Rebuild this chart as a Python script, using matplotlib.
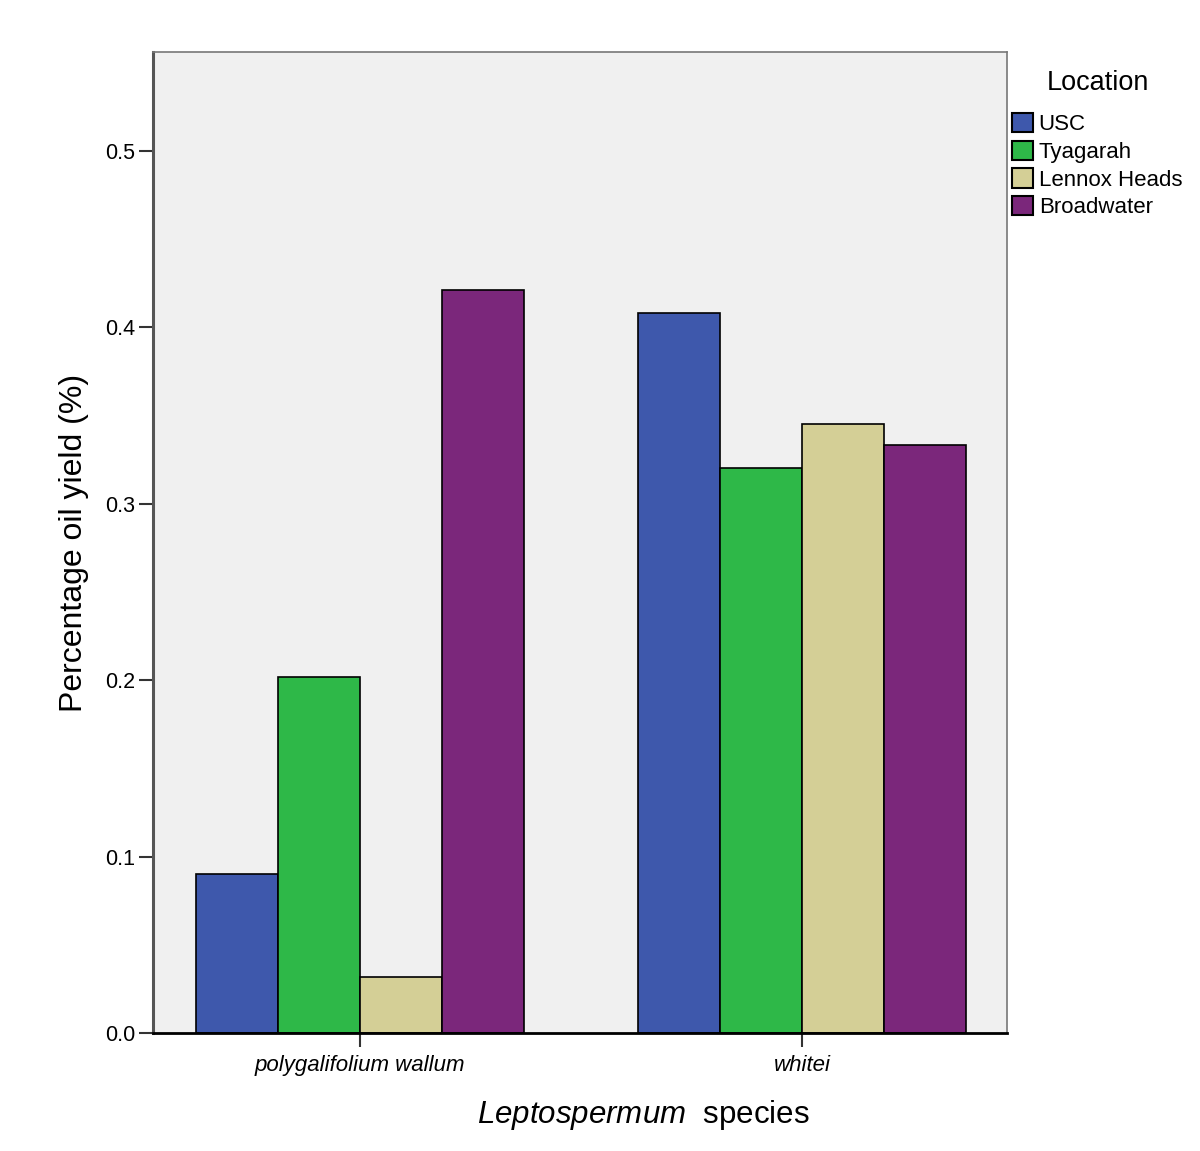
import numpy as np
import matplotlib.pyplot as plt

plt.rcParams['font.family'] = ['Liberation Sans', 'DejaVu Sans']
plt.rcParams['mathtext.fontset'] = 'custom'
plt.rcParams['mathtext.rm'] = 'Liberation Sans'
plt.rcParams['mathtext.it'] = 'Liberation Sans:italic'

species = ['polygalifolium wallum', 'whitei']
locations = ['USC', 'Tyagarah', 'Lennox Heads', 'Broadwater']
colors = ['#3E58AC', '#2EB848', '#D4CF96', '#7B277B']

usc = [0.090, 0.408]
tyagarah = [0.202, 0.320]
lennox = [0.032, 0.345]
broadwater = [0.421, 0.333]
yields = [usc, tyagarah, lennox, broadwater]

fig = plt.figure(figsize=(12, 11.51), dpi=100)
ax = fig.add_axes([0.1275, 0.1025, 0.7117, 0.8523])
ax.set_facecolor('#F0F0F0')

x = np.arange(len(species))
width = 0.1855
for i, (loc, vals) in enumerate(zip(locations, yields)):
    offset = (i - 1.5) * width
    ax.bar(x + offset, vals, width, color=colors[i], edgecolor='black',
           linewidth=1.2, label=loc, zorder=2)

ax.set_xlim(-0.468, 1.464)
ax.set_ylim(0, 0.556)
ax.set_yticks([0.0, 0.1, 0.2, 0.3, 0.4, 0.5])
ax.set_yticklabels(['0.0', '0.1', '0.2', '0.3', '0.4', '0.5'], fontsize=15.5)
ax.set_xticks(x)
ax.set_xticklabels(species, fontsize=16, style='italic')
ax.tick_params(axis='both', direction='out', length=10, width=1.5, color='#333333')
ax.tick_params(axis='x', pad=6)
ax.tick_params(axis='y', pad=3)

for side in ['top', 'right']:
    ax.spines[side].set_color('#777777')
    ax.spines[side].set_linewidth(1.2)
ax.spines['left'].set_color('#555555')
ax.spines['left'].set_linewidth(2.2)
ax.spines['bottom'].set_color('black')
ax.spines['bottom'].set_linewidth(2)

ax.set_ylabel('Percentage oil yield (%)', fontsize=23)
ax.yaxis.set_label_coords(-0.075, 0.5)
ax.set_xlabel(r'$\mathit{Leptospermum}$  species', fontsize=22.5)
ax.xaxis.set_label_coords(0.574, -0.066)

ax.text(1.1066, 0.968, 'Location', transform=ax.transAxes, fontsize=19.5,
        ha='center', va='center')
leg = ax.legend(loc='upper left', bbox_to_anchor=(1.0059, 0.938), frameon=False,
                fontsize=16, handlelength=0.95, handleheight=0.95, handletextpad=0.25,
                labelspacing=0.25, borderaxespad=0, borderpad=0)
for h in leg.legend_handles:
    h.set_edgecolor('black')
    h.set_linewidth(1.5)

fig.savefig('out.png', dpi=100, facecolor='white')
